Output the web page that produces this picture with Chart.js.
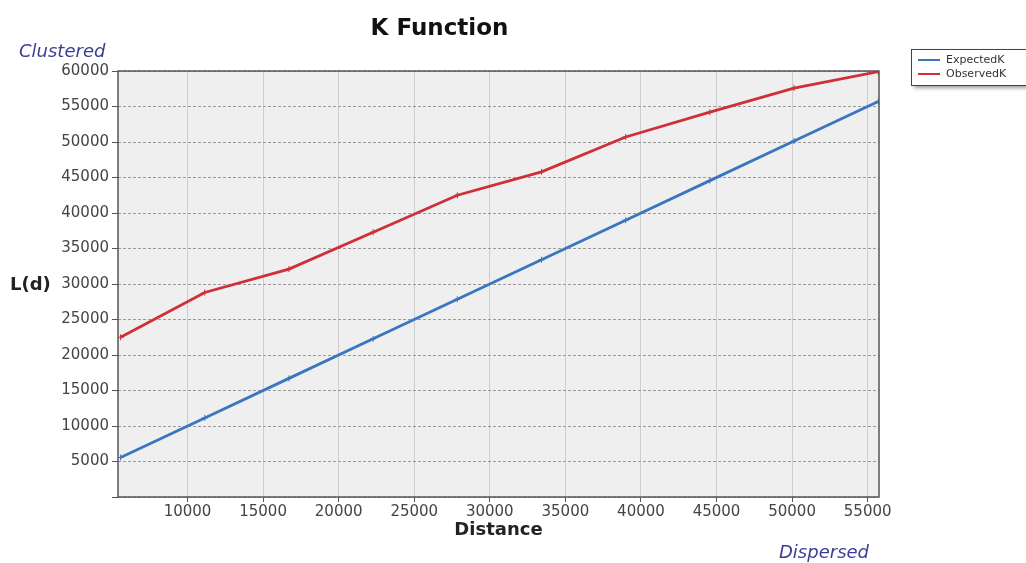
<!DOCTYPE html>
<html>
<head>
<meta charset="utf-8">
<script src="https://cdn.jsdelivr.net/npm/chart.js@4"></script>
<style>
  body { margin: 0; background: #fff; }
  #wrap { width: 1026px; height: 563px; }
</style>
</head>
<body>
<div id="wrap"><canvas id="kfunc" width="1026" height="563"></canvas></div>
<script>
// values
var distances = [5570, 11140, 16710, 22280, 27850, 33420, 38990, 44560, 50130, 55700];
var expectedK = [5570, 11140, 16710, 22280, 27850, 33420, 38990, 44560, 50130, 55700];
var observedK = [22500, 28800, 32100, 37300, 42500, 45800, 50700, 54200, 57600, 59900];
var xTicks = [10000, 15000, 20000, 25000, 30000, 35000, 40000, 45000, 50000, 55000];
var yTicks = [0, 5000, 10000, 15000, 20000, 25000, 30000, 35000, 40000, 45000, 50000, 55000, 60000];

function pairs(ys) {
    return distances.map(function(d, i) { return {x: d, y: ys[i]}; });
}

// extra texts + boxed legend, drawn on the canvas
var extras = {
    id: 'extras',
    beforeDraw: function(chart) {
        var ctx = chart.ctx, a = chart.chartArea;
        ctx.save();
        ctx.fillStyle = '#efefef';
        ctx.fillRect(a.left, a.top, a.right - a.left, a.bottom - a.top);
        ctx.restore();
    },
    afterDraw: function(chart) {
        var ctx = chart.ctx, a = chart.chartArea;
        ctx.save();
        // frame
        ctx.strokeStyle = '#555';
        ctx.lineWidth = 1.5;
        ctx.strokeRect(a.left, a.top, a.right - a.left, a.bottom - a.top);

        ctx.fillStyle = '#3c3c96';
        ctx.font = 'italic 18px "DejaVu Sans"';
        ctx.textBaseline = 'middle';
        ctx.textAlign = 'left';
        ctx.fillText('Clustered', 19, 52);
        ctx.fillText('Dispersed', 779, 553);

        ctx.fillStyle = '#222';
        ctx.font = 'bold 18px "DejaVu Sans"';
        ctx.fillText('L(d)', 10, 285);

        // legend
        ctx.shadowColor = 'rgba(0,0,0,0.4)';
        ctx.shadowOffsetX = 3;
        ctx.shadowOffsetY = 3;
        ctx.shadowBlur = 4;
        ctx.fillStyle = '#fff';
        ctx.fillRect(911, 49, 120, 36);
        ctx.shadowColor = 'transparent';
        ctx.strokeStyle = '#444';
        ctx.lineWidth = 1;
        ctx.strokeRect(911.5, 49.5, 120, 36);
        chart.data.datasets.forEach(function(ds, i) {
            var y = 60 + i * 14;
            ctx.strokeStyle = ds.borderColor;
            ctx.lineWidth = 2;
            ctx.beginPath();
            ctx.moveTo(918, y);
            ctx.lineTo(940, y);
            ctx.stroke();
            ctx.fillStyle = '#333';
            ctx.font = '11px "DejaVu Sans"';
            ctx.fillText(ds.label, 946, y);
        });
        ctx.restore();
    }
};

new Chart(document.getElementById('kfunc'), {
    type: 'line',
    data: {
        datasets: [{
            label: 'ExpectedK',
            data: pairs(expectedK),
            borderColor: '#3a76c0',
            backgroundColor: '#3a76c0',
            borderWidth: 2.8,
            pointStyle: 'cross',
            pointRadius: 3,
            pointBorderWidth: 1,
            tension: 0
        }, {
            label: 'ObservedK',
            data: pairs(observedK),
            borderColor: '#cf2f37',
            backgroundColor: '#cf2f37',
            borderWidth: 2.8,
            pointStyle: 'cross',
            pointRadius: 3,
            pointBorderWidth: 1,
            tension: 0
        }]
    },
    options: {
        responsive: false,
        animation: false,
        layout: { padding: { left: 0, right: 147, top: 0, bottom: 0 } },
        plugins: {
            legend: { display: false },
            tooltip: { enabled: false },
            title: {
                display: true,
                text: 'K Function',
                color: '#111',
                font: { family: 'DejaVu Sans', size: 23, weight: 'bold' },
                padding: { top: 15, bottom: 28.4 }
            }
        },
        scales: {
            x: {
                type: 'linear',
                min: 5400,
                max: 55750,
                afterBuildTicks: function(s) { s.ticks = xTicks.map(function(v) { return {value: v}; }); },
                afterFit: function(s) { s.height = 66; },
                ticks: {
                    color: '#444',
                    font: { family: 'DejaVu Sans', size: 15 },
                    padding: 1,
                    maxRotation: 0,
                    callback: function(v) { return String(v); }
                },
                grid: { color: '#cdcdcd', tickColor: '#555', tickLength: 5 },
                border: { display: false },
                title: {
                    display: true,
                    text: 'Distance',
                    color: '#222',
                    font: { family: 'DejaVu Sans', size: 18, weight: 'bold' },
                    padding: { top: 0, bottom: 22 }
                }
            },
            y: {
                min: 0,
                max: 60000,
                afterBuildTicks: function(s) { s.ticks = yTicks.map(function(v) { return {value: v}; }); },
                afterFit: function(s) { s.width = 118; },
                ticks: {
                    color: '#444',
                    font: { family: 'DejaVu Sans', size: 15 },
                    padding: 3,
                    callback: function(v) { return v === 0 ? '' : String(v); }
                },
                grid: { color: '#9a9a9a', tickColor: '#555', tickLength: 6 },
                border: { display: false, dash: [3, 2] }
            }
        }
    },
    plugins: [extras]
});
</script>
</body>
</html>
